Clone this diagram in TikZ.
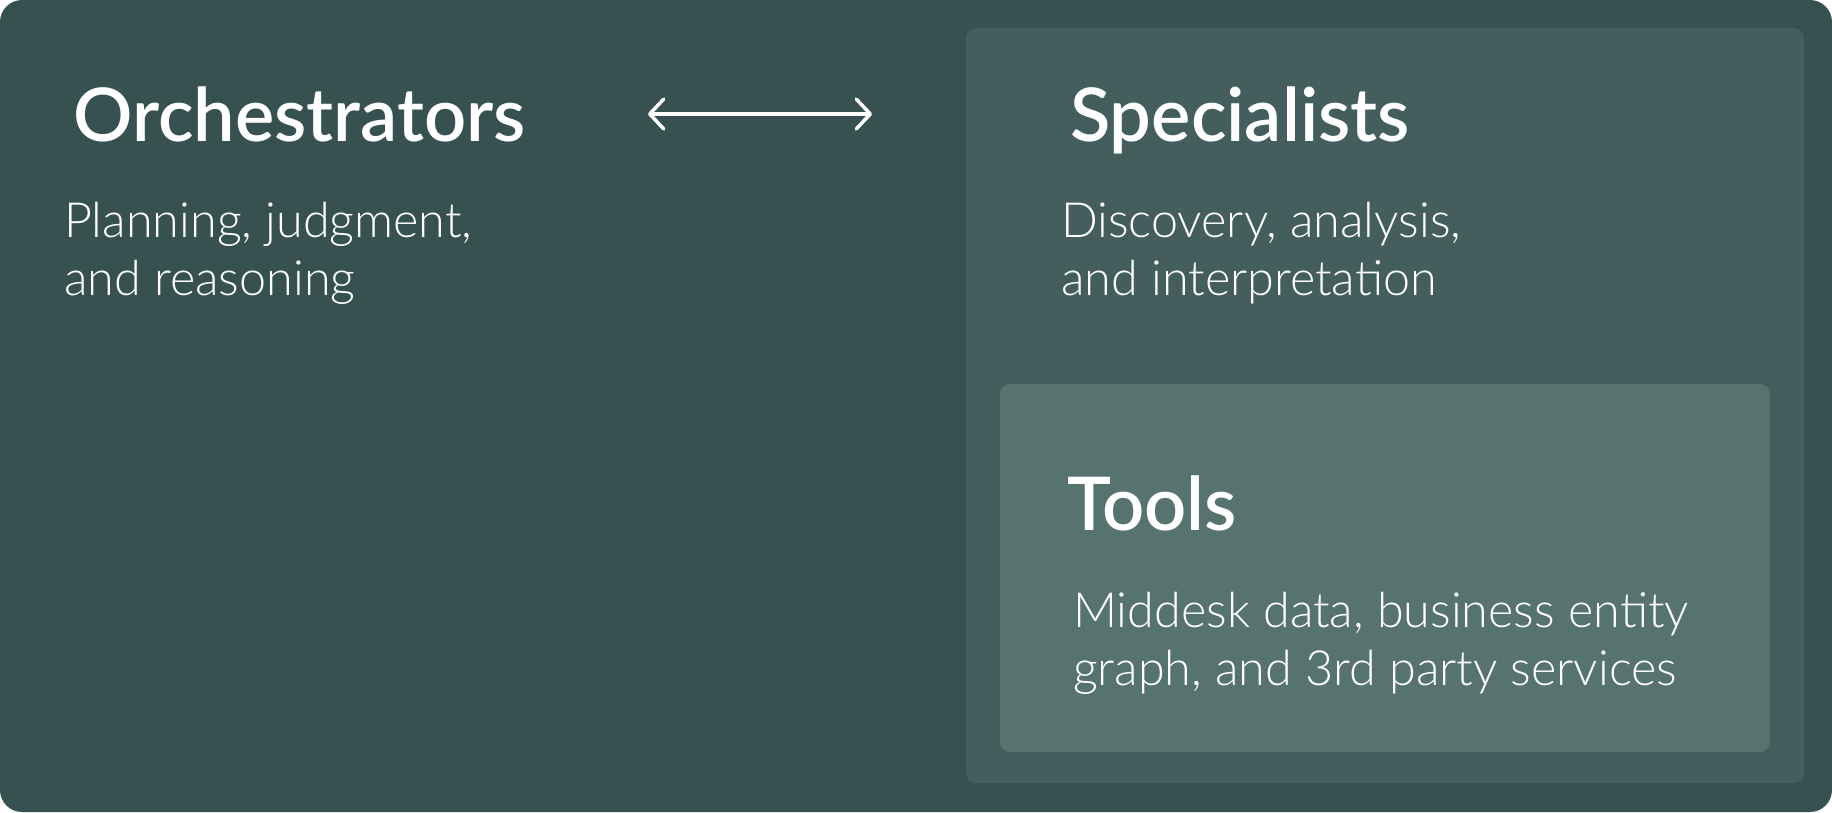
\documentclass[tikz,border=0pt]{standalone}
\usepackage{fontspec}
\setmainfont{Lato}
\newfontfamily\bodyfont{Lato Light}
\newfontfamily\titlefont{Lato Semibold}
\usetikzlibrary{arrows.meta}
\definecolor{outerbg}{RGB}{54,81,80}
\definecolor{specbg}{RGB}{67,94,93}
\definecolor{toolbg}{RGB}{87,115,111}
\tikzset{
  titletext/.style={anchor=base west, inner sep=0pt, text=white, font=\titlefont\fontsize{74}{80}\selectfont},
  bodytext/.style={anchor=base west, inner sep=0pt, text=white, align=left, font=\bodyfont\fontsize{48.5}{58}\selectfont},
  panel/.style={rounded corners=10pt},
}
\begin{document}
\begin{tikzpicture}[x=1pt,y=-1pt]
\useasboundingbox (0,0) rectangle (1832,812);
\fill[white] (0,0) rectangle (1832,812);
\fill[outerbg, rounded corners=22pt] (0,0) rectangle (1832,812);
\fill[specbg, panel] (966,28) rectangle (1804,783);
\fill[toolbg, panel] (1000,384) rectangle (1770,752);

\node[titletext] (orch) at (73,141) {Orchestrators};
\node[bodytext] (orchd) at (64,295) {Planning, judgment,\\and reasoning};

\node[titletext] (spec) at (1070,141) {Specialists};
\node[bodytext] (specd) at (1061,295) {Discovery, analysis,\\and interpretation};

\node[titletext] (tools) at (1067,530) {Tools};
\node[bodytext] (toolsd) at (1073,685) {Middesk data, business entity\\graph, and 3rd party services};

\coordinate (al) at (648,114);
\coordinate (ar) at (872,114);
\draw[white, line width=3.5pt, line cap=round, line join=round,
  {Straight Barb[length=14pt, width=30pt, line cap=round, line join=round]}-{Straight Barb[length=14pt, width=30pt, line cap=round, line join=round]}] (al) -- (ar);
\end{tikzpicture}
\end{document}
